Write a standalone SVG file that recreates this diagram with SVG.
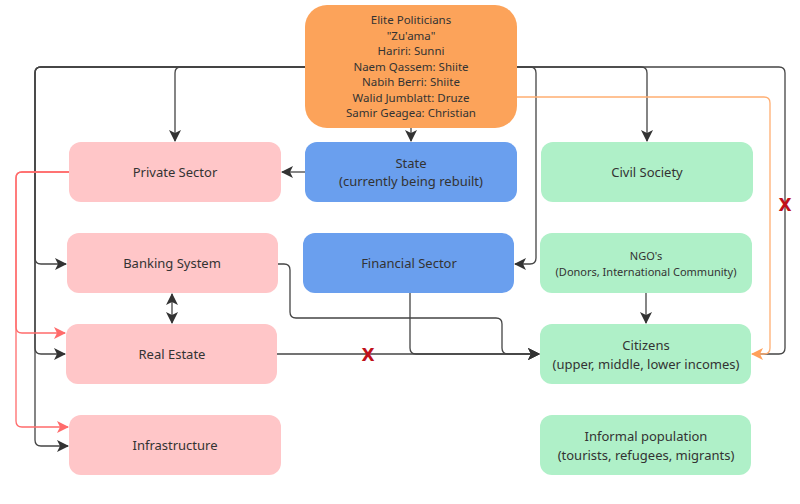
<svg xmlns="http://www.w3.org/2000/svg" width="800" height="504" viewBox="0 0 800 504">
<defs>
<style>
.t{font-family:"Noto Sans","Open Sans","DejaVu Sans",sans-serif;fill:#333;text-anchor:middle}
.n{font-size:13px}
.s{font-size:11.5px}
.xs{font-size:11px}
.pink{fill:#FFC6C8}
.blue{fill:#6A9FEE}
.green{fill:#AFF0C8}
.orange{fill:#FCA35A}
.c{fill:none;stroke:#444;stroke-width:1.3}
.cr{fill:none;stroke:#FF6B6B;stroke-width:1.3}
.co{fill:none;stroke:#FFAE72;stroke-width:1.3}
.x{font-family:"DejaVu Sans",sans-serif;font-weight:bold;font-size:17px;fill:#C0111A;text-anchor:middle}
</style>
<marker id="a" viewBox="0 0 12 12" refX="11" refY="6" markerWidth="12" markerHeight="12" markerUnits="userSpaceOnUse" orient="auto-start-reverse">
<path d="M0,0 L12,6 L0,12 L3,6 z" fill="#333"/>
</marker>
<marker id="ar" viewBox="0 0 12 12" refX="11" refY="6" markerWidth="12" markerHeight="12" markerUnits="userSpaceOnUse" orient="auto">
<path d="M0,0 L12,6 L0,12 L3,6 z" fill="#FF6B6B"/>
</marker>
<marker id="ao" viewBox="0 0 12 12" refX="11" refY="6" markerWidth="12" markerHeight="12" markerUnits="userSpaceOnUse" orient="auto">
<path d="M0,0 L12,6 L0,12 L3,6 z" fill="#FFA05A"/>
</marker>
</defs>
<rect width="800" height="504" fill="#fff"/>
<g id="connectors">
<path class="c" d="M305,67 H181 Q175,67 175,73 V141" marker-end="url(#a)"/>
<path class="c" d="M305,67 H41 Q35,67 35,73 V258 Q35,264 41,264 H66" marker-end="url(#a)"/>
<path class="c" d="M305,67 H41 Q35,67 35,73 V348 Q35,354 41,354 H65" marker-end="url(#a)"/>
<path class="c" d="M305,67 H41 Q35,67 35,73 V440 Q35,446 41,446 H68" marker-end="url(#a)"/>
<path class="c" d="M517,67 H530 Q536,67 536,73 V258 Q536,264 530,264 H515" marker-end="url(#a)"/>
<path class="c" d="M517,67 H641 Q647,67 647,73 V141" marker-end="url(#a)"/>
<path class="c" d="M517,67 H779 Q785,67 785,73 V348 Q785,354 779,354 H760"/>
<path class="co" d="M517,97 H764 Q770,97 770,103 V348 Q770,354 764,354 H752" marker-end="url(#ao)"/>
<path class="c" d="M411,128 V141" marker-end="url(#a)"/>
<path class="c" d="M305,172 H282" marker-end="url(#a)"/>
<path class="cr" d="M69,172 H22 Q16,172 16,178 V327 Q16,333 22,333 H65" marker-end="url(#ar)"/>
<path class="cr" d="M69,172 H22 Q16,172 16,178 V421 Q16,427 22,427 H68" marker-end="url(#ar)"/>
<path class="c" d="M172,294 V323" marker-start="url(#a)" marker-end="url(#a)"/>
<path class="c" d="M278,264 H284 Q290,264 290,270 V312 Q290,318 296,318 H496 Q502,318 502,324 V348 Q502,354 508,354 H539" marker-end="url(#a)"/>
<path class="c" d="M410,293 V348 Q410,354 416,354 H539" marker-end="url(#a)"/>
<path class="c" d="M277,354 H539" marker-end="url(#a)"/>
<path class="c" d="M646,293 V323" marker-end="url(#a)"/>
<text class="x" x="368" y="361">X</text>
<text class="x" x="785" y="211">X</text>
</g>
<g id="elite"><rect class="orange" x="305" y="5" width="212" height="123" rx="22"/>
<text class="t s" x="411" y="24">Elite Politicians</text>
<text class="t s" x="411" y="39.5">"Zu'ama"</text>
<text class="t s" x="411" y="55">Hariri: Sunni</text>
<text class="t s" x="411" y="70.5">Naem Qassem: Shiite</text>
<text class="t s" x="411" y="86">Nabih Berri: Shiite</text>
<text class="t s" x="411" y="101.5">Walid Jumblatt: Druze</text>
<text class="t s" x="411" y="117">Samir Geagea: Christian</text>
</g>
<g id="private"><rect class="pink" x="69" y="142" width="212" height="60" rx="12"/><text class="t n" x="175" y="177">Private Sector</text></g>
<g id="state"><rect class="blue" x="305" y="142" width="212" height="60" rx="12"/><text class="t n" x="411" y="168">State</text><text class="t n" x="411" y="186">(currently being rebuilt)</text></g>
<g id="civil"><rect class="green" x="541" y="142" width="212" height="60" rx="12"/><text class="t n" x="647" y="177">Civil Society</text></g>
<g id="banking"><rect class="pink" x="67" y="233" width="211" height="60" rx="12"/><text class="t n" x="172" y="268">Banking System</text></g>
<g id="financial"><rect class="blue" x="303" y="233" width="211" height="60" rx="12"/><text class="t n" x="409" y="268">Financial Sector</text></g>
<g id="ngo"><rect class="green" x="540" y="233" width="212" height="60" rx="12"/><text class="t xs" x="646" y="260">NGO's</text><text class="t xs" x="646" y="276">(Donors, International Community)</text></g>
<g id="realestate"><rect class="pink" x="66" y="324" width="211" height="60" rx="12"/><text class="t n" x="172" y="359">Real Estate</text></g>
<g id="citizens"><rect class="green" x="540" y="324" width="211" height="60" rx="12"/><text class="t n" x="646" y="350">Citizens</text><text class="t n" x="646" y="369">(upper, middle, lower incomes)</text></g>
<g id="infrastructure"><rect class="pink" x="69" y="415" width="212" height="60" rx="12"/><text class="t n" x="175" y="450">Infrastructure</text></g>
<g id="informal"><rect class="green" x="540" y="415" width="211" height="60" rx="12"/><text class="t n" x="646" y="441">Informal population</text><text class="t n" x="646" y="460">(tourists, refugees, migrants)</text></g>
</svg>
